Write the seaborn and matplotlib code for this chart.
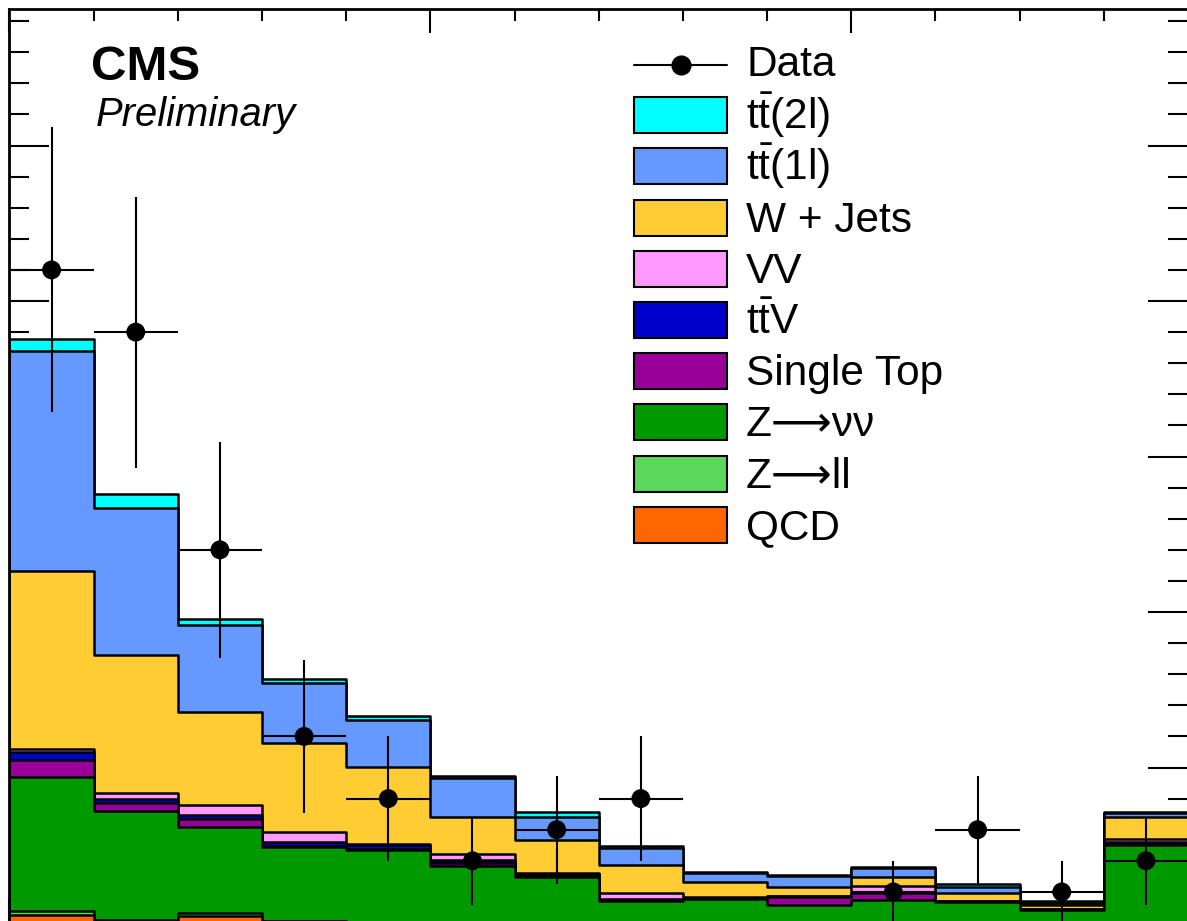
import numpy as np
import pandas as pd
import matplotlib
matplotlib.use("Agg")
import matplotlib.pyplot as plt
from matplotlib.patches import Rectangle
from matplotlib.lines import Line2D
from matplotlib.ticker import MultipleLocator
import seaborn as sns

# ---------------- data ----------------
bin_edges = list(range(15))
qcd   = [0.25, 0.03, 0.22, 0.05, 0.00, 0, 0, 0, 0, 0, 0, 0, 0, 0]
zll   = [0.12, 0.07, 0.10, 0.03, 0.02, 0, 0, 0, 0, 0, 0, 0, 0, 0]
zvv   = [4.32, 3.50, 2.77, 2.36, 2.33, 1.83, 1.48, 0.72, 0.77, 0.58, 0.74, 0.68, 0.42, 2.51]
stop  = [0.55, 0.26, 0.25, 0.03, 0.02, 0.10, 0.05, 0.02, 0.02, 0.26, 0.22, 0.01, 0.01, 0.04]
ttv   = [0.26, 0.13, 0.13, 0.13, 0.14, 0.10, 0.05, 0.02, 0.01, 0.02, 0.01, 0.01, 0.01, 0.05]
vv    = [0.09, 0.19, 0.32, 0.33, 0.02, 0.19, 0.02, 0.20, 0.02, 0.01, 0.22, 0.02, 0.01, 0.10]
wjets = [5.73, 4.44, 2.99, 2.86, 2.49, 1.19, 1.07, 0.90, 0.50, 0.29, 0.29, 0.24, 0.13, 0.71]
tt1l  = [7.07, 4.72, 2.80, 1.93, 1.51, 1.25, 0.74, 0.55, 0.29, 0.35, 0.29, 0.20, 0.07, 0.13]
tt2l  = [0.39, 0.45, 0.19, 0.13, 0.13, 0.07, 0.16, 0.07, 0.02, 0.02, 0.02, 0.09, 0.05, 0.03]
data_counts = [21, 19, 12, 6, 4, 2, 3, 4, np.nan, np.nan, 1, 3, 1, 2]

# stack order bottom -> top
components = ["QCD", "Zll", "Zvv", "SingleTop", "ttV", "VV", "WJets", "tt1l", "tt2l"]
values = {"QCD": qcd, "Zll": zll, "Zvv": zvv, "SingleTop": stop, "ttV": ttv,
          "VV": vv, "WJets": wjets, "tt1l": tt1l, "tt2l": tt2l}
colors = {"tt2l": "#00FFFF", "tt1l": "#6699FF", "WJets": "#FFCC33", "VV": "#FF99FF",
          "ttV": "#0000CC", "SingleTop": "#990099", "Zvv": "#009900",
          "Zll": "#5BD75B", "QCD": "#FF6600"}
labels = {"tt2l": r"t$\mathrm{\bar{t}}$(2l)", "tt1l": r"t$\mathrm{\bar{t}}$(1l)",
          "WJets": "W + Jets", "VV": "VV", "ttV": r"t$\mathrm{\bar{t}}$V",
          "SingleTop": "Single Top", "Zvv": "Z\u27f6\u03bd\u03bd",
          "Zll": "Z\u27f6ll", "QCD": "QCD"}
legend_order = ["tt2l", "tt1l", "WJets", "VV", "ttV", "SingleTop", "Zvv", "Zll", "QCD"]

# ---------------- style ----------------
sns.set_style("ticks")
plt.rcParams["font.family"] = ["Liberation Sans", "DejaVu Sans"]
plt.rcParams["text.color"] = "black"
plt.rcParams["mathtext.fontset"] = "custom"
plt.rcParams["mathtext.rm"] = "Liberation Sans"
plt.rcParams["mathtext.it"] = "Liberation Sans:italic"
plt.rcParams["mathtext.bf"] = "Liberation Sans:bold"

W, H = 1187, 921
fig = plt.figure(figsize=(W / 100, H / 100), dpi=100)
fig.patch.set_facecolor("white")
ax = fig.add_axes([9.5 / W, -2 / H, (1188 - 9.5) / W, (923 - 9) / H])
ax.set_facecolor("white")

centers = np.array(bin_edges[:-1]) + 0.5
cum = np.zeros(len(centers))
cums = {}
for c in components:
    cum = cum + np.array(values[c])
    cums[c] = cum.copy()

# draw from the top of the stack downward
for c in components[::-1]:
    df = pd.DataFrame({"x": centers, "w": cums[c]})
    sns.histplot(data=df, x="x", weights="w", bins=bin_edges, element="step",
                 fill=True, color=colors[c], alpha=1.0, edgecolor="black",
                 linewidth=1.8, ax=ax, zorder=2)

# data points
dc = np.array(data_counts, dtype=float)
ax.errorbar(centers, dc, xerr=0.5, yerr=np.sqrt(dc), fmt="none",
            ecolor="black", elinewidth=1.5, capsize=0, zorder=5)
sns.scatterplot(x=centers, y=dc, color="black", s=185, edgecolor="none",
                ax=ax, zorder=6, legend=False)

ax.set_xlim(0, 14)
ax.set_ylim(0, 29.39)
ax.set_xlabel("")
ax.set_ylabel("")
ax.xaxis.set_major_locator(MultipleLocator(5))
ax.xaxis.set_minor_locator(MultipleLocator(1))
ax.yaxis.set_major_locator(MultipleLocator(5))
ax.yaxis.set_minor_locator(MultipleLocator(1))
ax.tick_params(axis="both", which="both", direction="in", top=True, right=True,
               labelleft=False, labelbottom=False, width=1.5, colors="black")
ax.tick_params(axis="y", which="major", length=28.8)
ax.tick_params(axis="y", which="minor", length=14.4)
ax.tick_params(axis="x", which="major", length=17.5)
ax.tick_params(axis="x", which="minor", length=8.5)
for s in ax.spines.values():
    s.set_linewidth(2.0)
    s.set_color("black")
    s.set_zorder(10)

# ---------------- texts ----------------
def fx(px):
    return px / W

def fy(py):
    return 1 - py / H

fig.text(fx(91), fy(80), "CMS", fontsize=35.5, fontweight="bold", va="baseline",
         ha="left", color="black")
fig.text(fx(96), fy(126), "Preliminary", fontsize=28.8, fontstyle="italic",
         va="baseline", ha="left", color="black")

# ---------------- legend ----------------
box_x0, box_x1 = 634, 727
box_h = 36
text_x = 746
row_y0 = 65
row_dy = 51.2
fs_leg = 30.5

# Data entry
y = row_y0
fig.add_artist(Line2D([fx(box_x0), fx(box_x1)], [fy(y), fy(y)], color="black",
                      linewidth=1.5, transform=fig.transFigure))
fig.add_artist(Line2D([fx((box_x0 + box_x1) / 2)], [fy(y)], marker="o", color="black",
                      markersize=13.5, linestyle="none", transform=fig.transFigure))
fig.text(fx(text_x), fy(y + 11), "Data", fontsize=fs_leg, va="baseline", ha="left",
         color="black")

for i, c in enumerate(legend_order):
    yc = row_y0 + row_dy * (i + 1) - 1
    rect = Rectangle((fx(box_x0), fy(yc + box_h / 2)), fx(box_x1) - fx(box_x0),
                     box_h / H, facecolor=colors[c], edgecolor="black",
                     linewidth=1.5, transform=fig.transFigure)
    fig.add_artist(rect)
    fig.text(fx(text_x), fy(yc + 14), labels[c], fontsize=fs_leg, va="baseline",
             ha="left", color="black")

fig.savefig("out.png", dpi=100, facecolor="white")
